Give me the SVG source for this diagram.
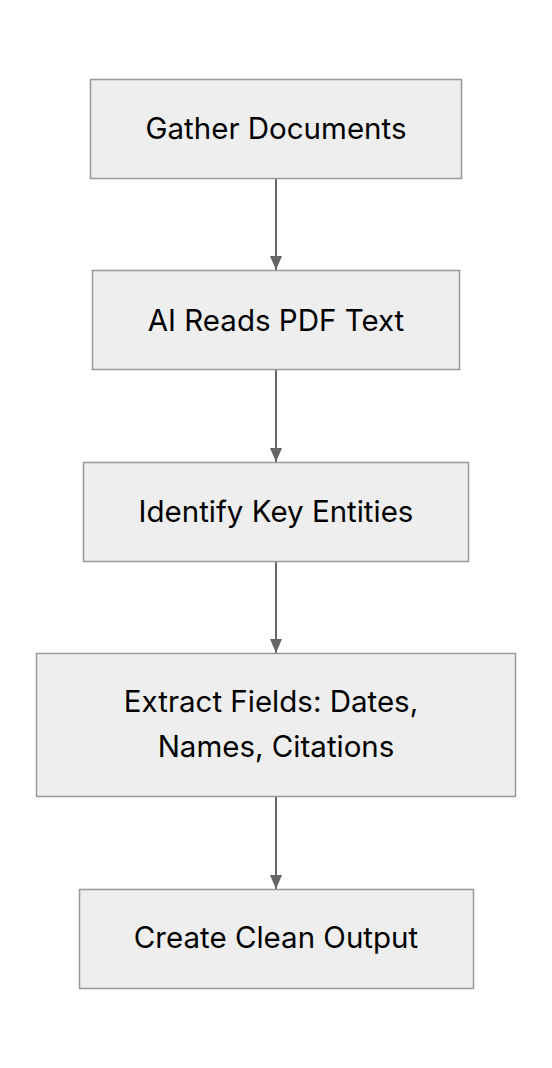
<svg xmlns="http://www.w3.org/2000/svg" width="552" height="1068" viewBox="0 0 552 1068">
<style>
.node rect{fill:#eeeeee;stroke:#999999;stroke-width:1.5}
.node text{font-family:Inter,"Liberation Sans",sans-serif;font-size:29.5px;fill:#000000;text-anchor:middle}
.edge{stroke:#666666;stroke-width:2;fill:none}
</style>
<defs>
<marker id="arrow" viewBox="0 0 14 12" refX="14" refY="6" markerWidth="14" markerHeight="12" markerUnits="userSpaceOnUse" orient="auto">
<path d="M0,0 L14,6 L0,12 Z" fill="#666666"/>
</marker>
</defs>
<rect width="552" height="1068" fill="#ffffff"/>
<g id="connectors">
<line class="edge" x1="276" y1="179" x2="276" y2="270" marker-end="url(#arrow)"/>
<line class="edge" x1="276" y1="370" x2="276" y2="462" marker-end="url(#arrow)"/>
<line class="edge" x1="276" y1="561" x2="276" y2="653" marker-end="url(#arrow)"/>
<line class="edge" x1="276" y1="797" x2="276" y2="889" marker-end="url(#arrow)"/>
</g>
<g id="gather" class="node">
<rect x="90.5" y="79.5" width="371" height="99"/>
<text x="276" y="139">Gather Documents</text>
</g>
<g id="reads" class="node">
<rect x="92.5" y="270.5" width="367" height="99"/>
<text x="276" y="331">AI Reads PDF Text</text>
</g>
<g id="identify" class="node">
<rect x="83.5" y="462.5" width="385" height="99"/>
<text x="276" y="522">Identify Key Entities</text>
</g>
<g id="extract" class="node">
<rect x="36.5" y="653.5" width="479" height="143"/>
<text x="271" y="712">Extract Fields: Dates,</text>
<text x="276" y="757">Names, Citations</text>
</g>
<g id="output" class="node">
<rect x="79.5" y="889.5" width="394" height="99"/>
<text x="276" y="948">Create Clean Output</text>
</g>
</svg>
